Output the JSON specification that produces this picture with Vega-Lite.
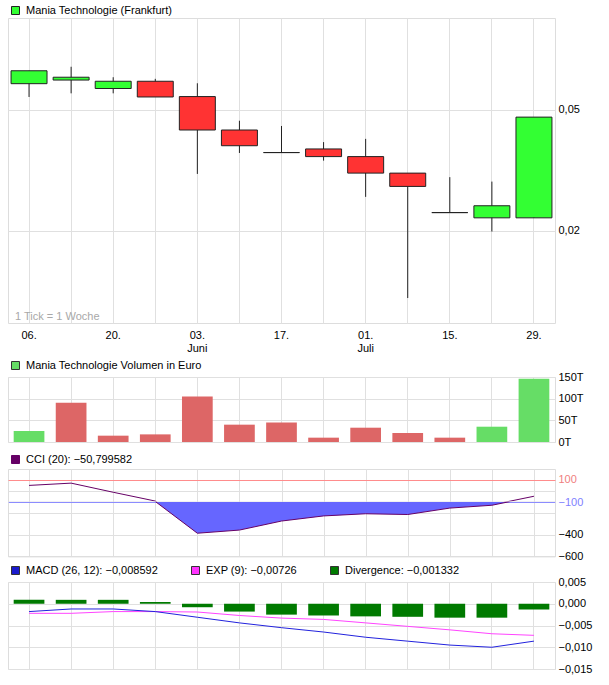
{
  "$schema": "https://vega.github.io/schema/vega-lite/v6.json",
  "autosize": {"type": "none"},
  "padding": {"left": 8, "top": 18, "right": 601, "bottom": 667},
  "background": "white",
  "config": {
    "font": "Liberation Sans",
    "view": {"stroke": "#dddddd"},
    "axis": {
      "gridColor": "#e0e0e0",
      "domainColor": "#dddddd",
      "labelFont": "Liberation Sans",
      "labelFontSize": 11,
      "labelColor": "#000000",
      "labelOverlap": false,
      "ticks": false,
      "domain": false,
      "title": null
    },
    "legend": {
      "orient": "none",
      "legendX": 2,
      "legendY": -17,
      "title": null,
      "symbolType": "square",
      "symbolSize": 64,
      "symbolStrokeWidth": 1,
      "labelFont": "Liberation Sans",
      "labelFontSize": 11,
      "labelColor": "#000000",
      "labelOffset": 5,
      "labelLimit": 0
    }
  },
  "datasets": {
    "candles": [
      {"week": "2013-05-06", "open": 0.0565, "high": 0.0597, "low": 0.0532, "close": 0.0597},
      {"week": "2013-05-13", "open": 0.0574, "high": 0.0607, "low": 0.0541, "close": 0.0581},
      {"week": "2013-05-20", "open": 0.0553, "high": 0.0581, "low": 0.0541, "close": 0.0571},
      {"week": "2013-05-27", "open": 0.0571, "high": 0.0577, "low": 0.0532, "close": 0.0532},
      {"week": "2013-06-03", "open": 0.0533, "high": 0.0566, "low": 0.0341, "close": 0.0450},
      {"week": "2013-06-10", "open": 0.0450, "high": 0.0473, "low": 0.0393, "close": 0.0411},
      {"week": "2013-06-17", "open": 0.0394, "high": 0.0460, "low": 0.0394, "close": 0.0394},
      {"week": "2013-06-24", "open": 0.0403, "high": 0.0420, "low": 0.0374, "close": 0.0384},
      {"week": "2013-07-01", "open": 0.0384, "high": 0.0428, "low": 0.0284, "close": 0.0343},
      {"week": "2013-07-08", "open": 0.0343, "high": 0.0343, "low": 0.0033, "close": 0.0310},
      {"week": "2013-07-15", "open": 0.0245, "high": 0.0333, "low": 0.0245, "close": 0.0245},
      {"week": "2013-07-22", "open": 0.0232, "high": 0.0322, "low": 0.0198, "close": 0.0262},
      {"week": "2013-07-29", "open": 0.0232, "high": 0.0482, "low": 0.0232, "close": 0.0482}
    ],
    "notes": [
      {"week": "2013-05-06", "note": "1 Tick = 1 Woche"}
    ],
    "volume": [
      {"week": "2013-05-06", "euro": 25400, "dir": "up"},
      {"week": "2013-05-13", "euro": 90700, "dir": "down"},
      {"week": "2013-05-20", "euro": 14600, "dir": "down"},
      {"week": "2013-05-27", "euro": 17600, "dir": "down"},
      {"week": "2013-06-03", "euro": 105000, "dir": "down"},
      {"week": "2013-06-10", "euro": 40000, "dir": "down"},
      {"week": "2013-06-17", "euro": 45000, "dir": "down"},
      {"week": "2013-06-24", "euro": 10000, "dir": "down"},
      {"week": "2013-07-01", "euro": 33000, "dir": "down"},
      {"week": "2013-07-08", "euro": 20800, "dir": "down"},
      {"week": "2013-07-15", "euro": 10000, "dir": "down"},
      {"week": "2013-07-22", "euro": 35300, "dir": "up"},
      {"week": "2013-07-29", "euro": 146000, "dir": "up"}
    ],
    "cci": [
      {"week": "2013-05-06", "cci": 49},
      {"week": "2013-05-13", "cci": 70},
      {"week": "2013-05-20", "cci": -14},
      {"week": "2013-05-27", "cci": -95},
      {"week": "2013-06-03", "cci": -387},
      {"week": "2013-06-10", "cci": -358},
      {"week": "2013-06-17", "cci": -275},
      {"week": "2013-06-24", "cci": -228},
      {"week": "2013-07-01", "cci": -208},
      {"week": "2013-07-08", "cci": -215},
      {"week": "2013-07-15", "cci": -156},
      {"week": "2013-07-22", "cci": -130},
      {"week": "2013-07-29", "cci": -50.799582}
    ],
    "macd": [
      {"week": "2013-05-06", "macd": -0.0018, "exp": -0.0022, "div": 0.0009},
      {"week": "2013-05-13", "macd": -0.0012, "exp": -0.0022, "div": 0.0009},
      {"week": "2013-05-20", "macd": -0.0012, "exp": -0.0018, "div": 0.0009},
      {"week": "2013-05-27", "macd": -0.0018, "exp": -0.0018, "div": 0.0004},
      {"week": "2013-06-03", "macd": -0.0031, "exp": -0.0019, "div": -0.0008},
      {"week": "2013-06-10", "macd": -0.0044, "exp": -0.0027, "div": -0.0018},
      {"week": "2013-06-17", "macd": -0.0055, "exp": -0.0033, "div": -0.0025},
      {"week": "2013-06-24", "macd": -0.0065, "exp": -0.0036, "div": -0.0027},
      {"week": "2013-07-01", "macd": -0.0077, "exp": -0.0044, "div": -0.0029},
      {"week": "2013-07-08", "macd": -0.0086, "exp": -0.0052, "div": -0.0030},
      {"week": "2013-07-15", "macd": -0.0095, "exp": -0.0060, "div": -0.0032},
      {"week": "2013-07-22", "macd": -0.0100, "exp": -0.0069, "div": -0.0032},
      {"week": "2013-07-29", "macd": -0.008592, "exp": -0.00726, "div": -0.001332}
    ]
  },
  "bounds": "full",
  "spacing": 5,
  "resolve": {
    "scale": {"x": "independent", "y": "independent", "fill": "independent", "stroke": "independent"},
    "legend": {"fill": "independent", "stroke": "independent"},
    "axis": {"x": "independent", "y": "independent"}
  },
  "vconcat": [
    {
      "width": 547,
      "height": 305,
      "encoding": {
        "x": {
          "field": "week",
          "type": "ordinal",
          "scale": {"paddingInner": 0, "paddingOuter": 0},
          "axis": {
            "grid": true,
            "labelAngle": 0,
            "labelPadding": 6,
            "labelLineHeight": 13,
            "labelExpr": "datum.value == '2013-05-06' ? '06.' : datum.value == '2013-05-20' ? '20.' : datum.value == '2013-06-03' ? ['03.', 'Juni'] : datum.value == '2013-06-17' ? '17.' : datum.value == '2013-07-01' ? ['01.', 'Juli'] : datum.value == '2013-07-15' ? '15.' : datum.value == '2013-07-29' ? '29.' : ''"
          }
        }
      },
      "layer": [
        {
          "data": {"name": "candles"},
          "mark": {"type": "rule", "color": "#222222", "strokeWidth": 1},
          "encoding": {
            "y": {
              "field": "low",
              "type": "quantitative",
              "scale": {"domain": [-0.0029, 0.0728], "nice": false, "zero": false},
              "axis": {
                "orient": "right",
                "grid": true,
                "values": [0.02, 0.05],
                "labelPadding": 3,
                "labelOverlap": false,
                "labelExpr": "replace(format(datum.value, '.2f'), '.', ',')"
              }
            },
            "y2": {"field": "high"}
          }
        },
        {
          "data": {"name": "candles"},
          "mark": {"type": "bar", "width": {"band": 0.855}, "stroke": "#222222", "strokeWidth": 1},
          "encoding": {
            "y": {"field": "open", "type": "quantitative"},
            "y2": {"field": "close"},
            "fill": {
              "condition": {"test": "datum.close < datum.open", "value": "#ff3333"},
              "datum": "Mania Technologie (Frankfurt)",
              "scale": {"range": ["#33ff33"]},
              "legend": {"legendY": -13}
            }
          }
        },
        {
          "data": {"name": "notes"},
          "mark": {"type": "text", "align": "left", "baseline": "middle", "dx": -14, "color": "#a8a8a8", "fontSize": 11},
          "encoding": {
            "x": {"field": "week", "type": "ordinal"},
            "y": {"datum": -0.0014, "type": "quantitative"},
            "text": {"field": "note"}
          }
        }
      ]
    },
    {
      "width": 547,
      "height": 65,
      "data": {"name": "volume"},
      "mark": {"type": "bar", "width": {"band": 0.73}},
      "encoding": {
        "x": {
          "field": "week",
          "type": "ordinal",
          "scale": {"paddingInner": 0, "paddingOuter": 0},
          "axis": {"grid": true, "labels": false}
        },
        "y": {
          "field": "euro",
          "type": "quantitative",
          "scale": {"domain": [0, 150000], "nice": false},
          "axis": {
            "orient": "right",
            "grid": true,
            "values": [0, 50000, 100000, 150000],
            "labelPadding": 3,
            "labelOverlap": false,
            "labelExpr": "format(datum.value / 1000, 'd') + 'T'"
          }
        },
        "fill": {
          "condition": {"test": "datum.dir == 'down'", "value": "#dd6666"},
          "datum": "Mania Technologie Volumen in Euro",
          "scale": {"range": ["#66dd66"]},
          "legend": {"symbolStrokeColor": "#333333"}
        }
      }
    },
    {
      "bounds": "full",
      "spacing": 2,
      "resolve": {
        "scale": {"x": "independent", "y": "independent", "fill": "independent", "stroke": "independent"},
        "legend": {"fill": "independent", "stroke": "independent"},
        "axis": {"x": "independent", "y": "independent"}
      },
      "vconcat": [
        {
          "bounds": "flush",
          "spacing": 0,
          "resolve": {
            "scale": {"x": "independent", "y": "independent", "fill": "independent", "stroke": "independent"},
            "legend": {"fill": "independent", "stroke": "independent"},
            "axis": {"x": "independent", "y": "independent"}
          },
          "vconcat": [
            {
              "width": 547,
              "height": 32.6,
              "data": {"name": "cci"},
              "mark": {"type": "line", "clip": true, "strokeWidth": 1},
              "encoding": {
                "x": {
                  "field": "week",
                  "type": "ordinal",
                  "scale": {"paddingInner": 0, "paddingOuter": 0},
                  "axis": {"grid": true, "labels": false}
                },
                "y": {
                  "field": "cci",
                  "type": "quantitative",
                  "scale": {"domain": [-100, 200], "nice": false, "zero": false},
                  "axis": {
                    "orient": "right",
                    "grid": true,
                    "values": [100, 0],
                    "labelPadding": 3,
                    "labelOverlap": false,
                    "labelColor": "#f08080",
                    "gridColor": {"condition": {"test": "datum.value == 100", "value": "#ff8c8c"}, "value": "#e0e0e0"},
                    "labelExpr": "datum.value == 100 ? '100' : ''"
                  }
                },
                "stroke": {
                  "datum": "CCI (20): −50,799582",
                  "scale": {"range": ["#660066"]},
                  "legend": {"symbolFillColor": "#660066", "legendY": -15}
                }
              }
            },
            {
              "width": 547,
              "height": 54.4,
              "view": {"stroke": null},
              "data": {"name": "cci"},
              "encoding": {
                "x": {
                  "field": "week",
                  "type": "ordinal",
                  "scale": {"paddingInner": 0, "paddingOuter": 0},
                  "axis": {"grid": true, "labels": false, "domain": true}
                }
              },
              "resolve": {"axis": {"y": "independent"}},
              "layer": [
                {
                  "mark": {"type": "area", "clip": true, "color": "#6666ff", "opacity": 1},
                  "encoding": {
                    "y": {
                      "field": "cci",
                      "type": "quantitative",
                      "scale": {"domain": [-600, -100], "nice": false, "zero": false},
                      "axis": {
                        "orient": "right",
                        "grid": true,
                        "domain": true,
                        "values": [-100, -200, -400, -600],
                        "labelPadding": 3,
                        "labelOverlap": false,
                        "format": "d",
                        "labelExpr": "datum.value == -200 ? '' : datum.label",
                        "labelColor": {"condition": {"test": "datum.value == -100", "value": "#8080ff"}, "value": "#000000"},
                        "gridColor": {"condition": {"test": "datum.value == -100", "value": "#8c8cff"}, "value": "#e0e0e0"}
                      }
                    },
                    "y2": {"datum": -100}
                  }
                },
                {
                  "mark": {"type": "line", "clip": true, "color": "#660066", "strokeWidth": 1},
                  "encoding": {
                    "y": {
                      "field": "cci",
                      "type": "quantitative",
                      "axis": {"orient": "left", "grid": false, "labels": false, "domain": true}
                    }
                  }
                }
              ]
            }
          ]
        },
        {
          "width": 547,
          "height": 87,
          "data": {"name": "macd"},
          "encoding": {
            "x": {
              "field": "week",
              "type": "ordinal",
              "scale": {"paddingInner": 0, "paddingOuter": 0},
              "axis": {"grid": true, "labels": false}
            }
          },
          "layer": [
            {
              "mark": {"type": "bar", "width": {"band": 0.73}},
              "encoding": {
                "y": {
                  "field": "div",
                  "type": "quantitative",
                  "scale": {"domain": [-0.015, 0.005], "nice": false, "zero": false},
                  "axis": {
                    "orient": "right",
                    "grid": true,
                    "values": [0.005, 0, -0.005, -0.01, -0.015],
                    "labelPadding": 3,
                    "labelOverlap": false,
                    "labelExpr": "replace(format(datum.value, '.3f'), '.', ',')"
                  }
                },
                "y2": {"datum": 0},
                "fill": {
                  "datum": "Divergence: −0,001332",
                  "scale": {
                    "domain": ["MACD (26, 12): −0,008592", "EXP (9): −0,00726", "Divergence: −0,001332"],
                    "range": ["#1a1acc", "#ff33ff", "#007a00"]
                  },
                  "legend": {
                    "direction": "horizontal",
                    "gridAlign": "none",
                    "columnPadding": 31,
                    "symbolStrokeColor": "#333333"
                  }
                }
              }
            },
            {
              "mark": {"type": "line", "color": "#ff44ff", "strokeWidth": 1},
              "encoding": {
                "y": {
                  "field": "exp",
                  "type": "quantitative",
                  "axis": {
                    "orient": "right",
                    "grid": true,
                    "values": [0.005, 0, -0.005, -0.01, -0.015],
                    "labelPadding": 3,
                    "labelOverlap": false,
                    "labelExpr": "replace(format(datum.value, '.3f'), '.', ',')"
                  }
                }
              }
            },
            {
              "mark": {"type": "line", "color": "#2222dd", "strokeWidth": 1},
              "encoding": {
                "y": {
                  "field": "macd",
                  "type": "quantitative",
                  "axis": {
                    "orient": "right",
                    "grid": true,
                    "values": [0.005, 0, -0.005, -0.01, -0.015],
                    "labelPadding": 3,
                    "labelOverlap": false,
                    "labelExpr": "replace(format(datum.value, '.3f'), '.', ',')"
                  }
                }
              }
            }
          ]
        }
      ]
    }
  ]
}
